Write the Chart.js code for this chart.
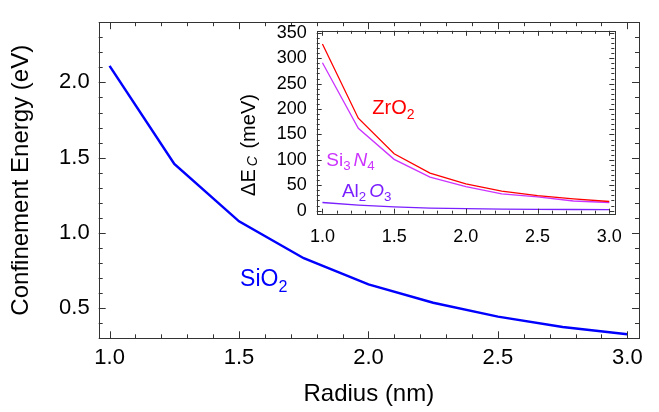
<!DOCTYPE html>
<html>
<head>
<meta charset="utf-8">
<script src="https://cdn.jsdelivr.net/npm/chart.js@4.4.1/dist/chart.umd.min.js"></script>
<style>
  html, body { margin: 0; padding: 0; background: #fff; }
  #wrap { position: relative; width: 659px; height: 412px; }
  #main { position: absolute; left: 0; top: 0; }
  #inset { position: absolute; left: 225px; top: 10px; }
</style>
</head>
<body>
<div id="wrap">
  <canvas id="main" width="659" height="412"></canvas>
  <canvas id="inset" width="410" height="240"></canvas>
</div>
<script>
// radius (nm) of the dots
const radius = [1.0, 1.25, 1.5, 1.75, 2.0, 2.25, 2.5, 2.75, 3.0];
// confinement energy in SiO2 (eV)
const sio2 = [2.11, 1.458, 1.077, 0.832, 0.658, 0.536, 0.444, 0.375, 0.327];
// conduction band offset difference (meV)
const zro2 = [328, 182, 112, 74, 52.5, 38.5, 29.6, 23.3, 18];
const si3n4 = [291, 162, 101, 66, 47.5, 33, 27, 19, 16];
const al2o3 = [16, 11, 7.5, 5, 3.8, 3.1, 2.6, 2.3, 2.1];

const mainXTicks = [1.0, 1.5, 2.0, 2.5, 3.0];
const mainYTicks = [0.5, 1.0, 1.5, 2.0];
const insetXTicks = [1.0, 1.5, 2.0, 2.5, 3.0];
const insetYTicks = [0, 50, 100, 150, 200, 250, 300, 350];

const FONT = '"Liberation Sans", Arial, Helvetica, sans-serif';

function drawRich(ctx, parts, x, y, size, color) {
  ctx.fillStyle = color;
  ctx.textBaseline = 'alphabetic';
  ctx.textAlign = 'left';
  let cx = x;
  for (const p of parts) {
    const s = p.sub ? size * 0.7 : size;
    ctx.font = (p.it ? 'italic ' : '') + s + 'px ' + FONT;
    ctx.fillText(p.t, cx, y + (p.sub ? p.drop ?? size * 0.25 : 0));
    cx += ctx.measureText(p.t).width + (p.gap || 0);
  }
  return cx - x;
}

function richWidth(ctx, parts, size) {
  let w = 0;
  for (const p of parts) {
    const s = p.sub ? size * 0.7 : size;
    ctx.font = (p.it ? 'italic ' : '') + s + 'px ' + FONT;
    w += ctx.measureText(p.t).width + (p.gap || 0);
  }
  return w;
}

// frame round the plot area with inward ticks on all four sides
const frameTicks = {
  id: 'frameTicks',
  afterDatasetsDraw(chart, args, opts) {
    const { ctx, chartArea: a, scales: { x, y } } = chart;
    ctx.save();
    ctx.strokeStyle = opts.color;
    ctx.lineWidth = 1;
    ctx.beginPath();
    const mark = (scale, step, majors, horiz) => {
      const first = Math.ceil(scale.min / step - 1e-6);
      const last = Math.floor(scale.max / step + 1e-6);
      for (let i = first; i <= last; i++) {
        const v = i * step;
        const major = majors.some(m => Math.abs(m - v) < step / 10);
        const len = major ? opts.major : opts.minor;
        const p = Math.round(scale.getPixelForValue(v)) + 0.5;
        if (horiz) {
          ctx.moveTo(p, a.bottom); ctx.lineTo(p, a.bottom - len);
          ctx.moveTo(p, a.top); ctx.lineTo(p, a.top + len);
        } else {
          ctx.moveTo(a.left, p); ctx.lineTo(a.left + len, p);
          ctx.moveTo(a.right, p); ctx.lineTo(a.right - len, p);
        }
      }
    };
    mark(x, opts.xStep, opts.xMajor, true);
    mark(y, opts.yStep, opts.yMajor, false);
    ctx.stroke();
    ctx.strokeRect(Math.round(a.left) + 0.5, Math.round(a.top) + 0.5,
      Math.round(a.right - a.left), Math.round(a.bottom - a.top));
    ctx.restore();
  }
};

// formula labels placed in data coordinates, plus an optional rotated title
const formulaLabels = {
  id: 'formulaLabels',
  afterDraw(chart, args, opts) {
    const { ctx, scales: { x, y } } = chart;
    ctx.save();
    for (const l of opts.items) {
      drawRich(ctx, l.parts, x.getPixelForValue(l.x), y.getPixelForValue(l.y), l.size, l.color);
    }
    if (opts.yTitle) {
      const t = opts.yTitle;
      ctx.translate(t.x, t.y);
      ctx.rotate(-Math.PI / 2);
      const w = richWidth(ctx, t.parts, t.size);
      drawRich(ctx, t.parts, -w / 2, 0, t.size, '#000');
    }
    ctx.restore();
  }
};

function fixedTicks(values) {
  return scale => { scale.ticks = values.map(v => ({ value: v })); };
}

new Chart(document.getElementById('main'), {
  type: 'line',
  data: {
    labels: radius,
    datasets: [{
      data: radius.map((r, i) => ({ x: r, y: sio2[i] })),
      borderColor: '#0000ff',
      borderWidth: 2.5,
      pointRadius: 0,
      tension: 0
    }]
  },
  plugins: [frameTicks, formulaLabels],
  options: {
    responsive: false,
    animation: false,
    layout: { padding: { left: 0, top: 5, right: 20, bottom: 0 } },
    plugins: {
      legend: { display: false },
      tooltip: { enabled: false },
      frameTicks: { color: '#333', major: 7, minor: 4, xStep: 0.1, yStep: 0.1, xMajor: mainXTicks, yMajor: mainYTicks },
      formulaLabels: {
        items: [
          { parts: [{ t: 'SiO' }, { t: '2', sub: 1 }], x: 1.504, y: 0.646, size: 23, color: '#0000ff' }
        ]
      }
    },
    scales: {
      x: {
        type: 'linear', min: 0.958, max: 3.045,
        afterBuildTicks: fixedTicks(mainXTicks),
        afterFit: s => { s.height = 73.7; },
        grid: { display: false, drawTicks: false },
        border: { display: false },
        ticks: { callback: v => v.toFixed(1), color: '#000', font: { family: FONT, size: 22 }, padding: 6, maxRotation: 0, autoSkip: false },
        title: { display: true, text: 'Radius (nm)', color: '#000', font: { family: FONT, size: 24 }, padding: { top: 0, bottom: 3 } }
      },
      y: {
        type: 'linear', min: 0.3, max: 2.4,
        afterBuildTicks: fixedTicks(mainYTicks),
        afterFit: s => { s.width = 98.7; },
        grid: { display: false, drawTicks: false },
        border: { display: false },
        ticks: { callback: v => v.toFixed(1), color: '#000', font: { family: FONT, size: 22 }, padding: 9, autoSkip: false },
        title: { display: true, text: 'Confinement Energy (eV)', color: '#000', font: { family: FONT, size: 24 }, padding: { top: 7, bottom: 0 } }
      }
    }
  }
});

new Chart(document.getElementById('inset'), {
  type: 'line',
  data: {
    labels: radius,
    datasets: [
      { data: radius.map((r, i) => ({ x: r, y: zro2[i] })), borderColor: '#ff0000', borderWidth: 1.3, pointRadius: 0, tension: 0 },
      { data: radius.map((r, i) => ({ x: r, y: si3n4[i] })), borderColor: '#cc33ff', borderWidth: 1.3, pointRadius: 0, tension: 0 },
      { data: radius.map((r, i) => ({ x: r, y: al2o3[i] })), borderColor: '#7a1fff', borderWidth: 1.3, pointRadius: 0, tension: 0 }
    ]
  },
  plugins: [frameTicks, formulaLabels],
  options: {
    responsive: false,
    animation: false,
    layout: { padding: { left: 0, top: 15, right: 12.3, bottom: 0 } },
    plugins: {
      legend: { display: false },
      tooltip: { enabled: false },
      frameTicks: { color: '#333', major: 5, minor: 3, xStep: 0.1, yStep: 10, xMajor: insetXTicks, yMajor: insetYTicks },
      formulaLabels: {
        items: [
          { parts: [{ t: 'ZrO' }, { t: '2', sub: 1 }], x: 1.348, y: 189.8, size: 20, color: '#ff0000' },
          { parts: [{ t: 'Si' }, { t: '3', sub: 1, gap: 3 }, { t: 'N', it: 1 }, { t: '4', sub: 1 }], x: 1.027, y: 88.7, size: 19, color: '#cc33ff' },
          { parts: [{ t: 'Al' }, { t: '2', sub: 1, gap: 3 }, { t: 'O', it: 1 }, { t: '3', sub: 1 }], x: 1.136, y: 27.7, size: 19, color: '#7a1fff' }
        ],
        yTitle: { parts: [{ t: '\u0394E', gap: 3 }, { t: 'C', sub: 1, it: 1, drop: 2, gap: 2 }, { t: ' (meV)' }], x: 30, y: 135, size: 20 }
      }
    },
    scales: {
      x: {
        type: 'linear', min: 0.96, max: 3.035,
        afterBuildTicks: fixedTicks(insetXTicks),
        afterFit: s => { s.height = 36.3; },
        grid: { display: false, drawTicks: false },
        border: { display: false },
        ticks: { callback: v => v.toFixed(1), color: '#000', font: { family: FONT, size: 18 }, padding: 13, maxRotation: 0, autoSkip: false },
        title: { display: false }
      },
      y: {
        type: 'linear', min: -6, max: 354,
        afterBuildTicks: fixedTicks(insetYTicks),
        afterFit: s => { s.width = 91.7; },
        grid: { display: false, drawTicks: false },
        border: { display: false },
        ticks: { callback: v => String(v), color: '#000', font: { family: FONT, size: 18 }, padding: 10, autoSkip: false },
        title: { display: false }
      }
    }
  }
});
</script>
</body>
</html>
